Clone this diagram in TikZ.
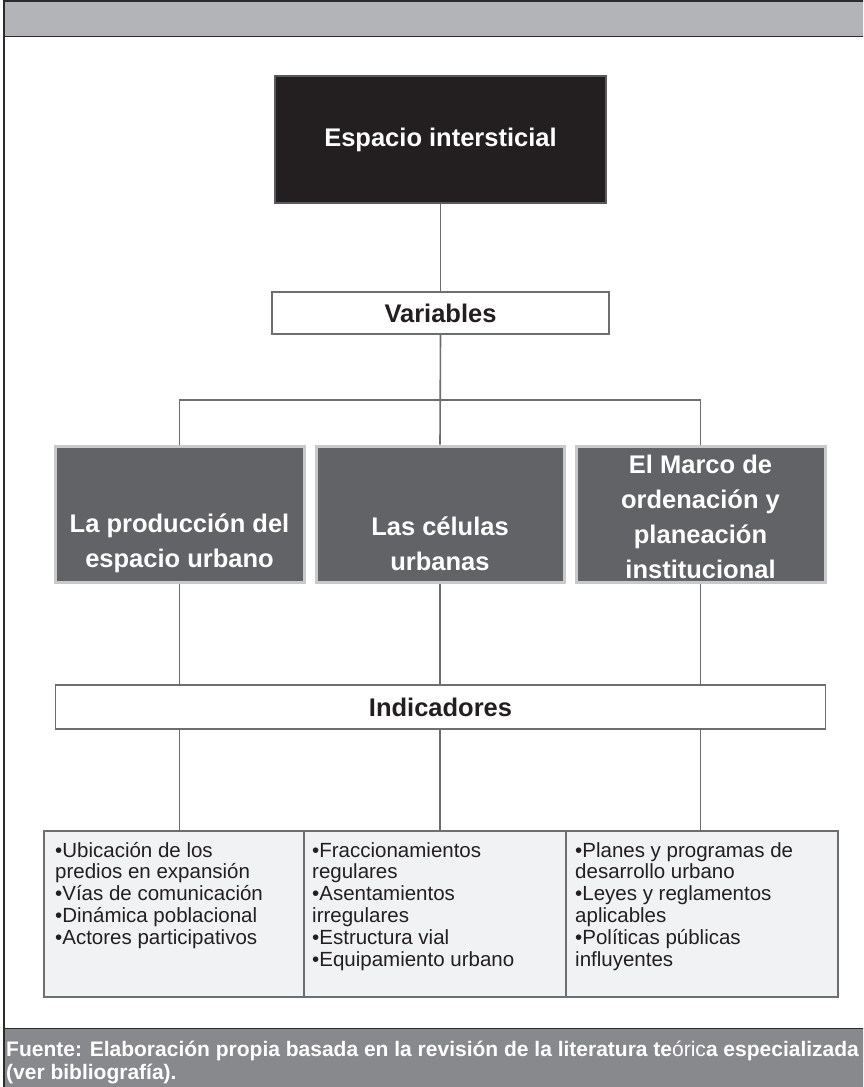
\documentclass[tikz,border=0pt]{standalone}
\usepackage{fontspec}
\setmainfont{Liberation Sans}
\definecolor{hdrgray}{HTML}{B3B4B7}
\definecolor{ftrgray}{HTML}{88898D}
\definecolor{framedark}{HTML}{2B2B2D}
\definecolor{topblack}{HTML}{231F20}
\definecolor{topedge}{HTML}{5A5A5C}
\definecolor{midgray}{HTML}{626366}
\definecolor{midedge}{HTML}{C8C9CB}
\definecolor{linegray}{HTML}{6D6E71}
\definecolor{cellfill}{HTML}{F1F2F3}
\definecolor{textdark}{HTML}{231F20}
\begin{document}
\begin{tikzpicture}[x=1pt,y=-1pt,
  conn/.style={draw=linegray,line width=1.6pt},
  topbox/.style={rectangle,fill=topblack,draw=topedge,line width=2pt,text=white,inner sep=0pt,
     font=\bfseries\fontsize{25.5}{30}\selectfont},
  whitebox/.style={rectangle,fill=white,draw=linegray,line width=1.8pt,text=textdark,inner sep=0pt,
     font=\bfseries\fontsize{25.5}{30}\selectfont},
  graybox/.style={rectangle,fill=midgray,draw=midedge,line width=3pt,inner sep=0pt},
  graytext/.style={text=white,align=center,inner sep=0pt,font=\bfseries\fontsize{25.5}{35}\selectfont},
  cellbox/.style={rectangle,fill=cellfill,draw=linegray,line width=1.6pt,inner sep=0pt},
  celltext/.style={anchor=base west,align=left,inner sep=0pt,text=textdark,font=\fontsize{20.5}{21.8}\selectfont},
  foottext/.style={anchor=base west,align=left,inner sep=0pt,text=white,font=\bfseries\fontsize{21}{23}\selectfont}
]
\useasboundingbox (0,0) rectangle (863,1087);
\clip (0,0) rectangle (863,1087);
\fill[white] (0,0) rectangle (863,1087);
% header band
\fill[hdrgray] (4,1) rectangle (870,36.5);
\draw[framedark,line width=2.5pt] (4,1) -- (870,1);
\draw[framedark,line width=1.8pt] (4,36.5) -- (870,36.5);
% footer band
\fill[ftrgray] (4,1028.5) rectangle (870,1090);
\draw[framedark,line width=1.8pt] (4,1028.5) -- (870,1028.5);
% left frame line
\draw[framedark,line width=1.8pt] (4,0) -- (4,1090);

% nodes
\node[topbox,minimum width=331pt,minimum height=127pt] (top) at (440.5,139.5) {\raisebox{-3pt}{Espacio intersticial}};
\node[whitebox,minimum width=337pt,minimum height=42pt] (var) at (440.5,313) {Variables};

\node[graybox,minimum width=249pt,minimum height=136pt] (b1) at (179.5,514) {};
\node[graybox,minimum width=248pt,minimum height=136pt] (b2) at (440,514) {};
\node[graybox,minimum width=249pt,minimum height=136pt] (b3) at (700.5,514) {};
\node[graytext] (b1t) at (179.5,543.5) {La producción del\\espacio urbano};
\node[graytext] (b2t) at (440,543.5) {Las células\\urbanas};
\node[graytext] (b3t) at (700.5,516.5) {El Marco de\\ordenación y\\planeación\\institucional};

\node[whitebox,minimum width=770pt,minimum height=44pt] (ind) at (440.5,707) {Indicadores};

\node[cellbox,minimum width=260pt,minimum height=166pt] (c1) at (174,914) {};
\node[cellbox,minimum width=262pt,minimum height=166pt] (c2) at (435,914) {};
\node[cellbox,minimum width=272pt,minimum height=166pt] (c3) at (702,914) {};

% base anchor of a multi-line node = baseline of its last line
\node[celltext] (c1t) at (55,944.2) {•Ubicación de los\\predios en expansión\\•Vías de comunicación\\•Dinámica poblacional\\•Actores participativos};
\node[celltext] (c2t) at (312,966) {•Fraccionamientos\\regulares\\•Asentamientos\\irregulares\\•Estructura vial\\•Equipamiento urbano};
\node[celltext] (c3t) at (575,966) {•Planes y programas de\\desarrollo urbano\\•Leyes y reglamentos\\aplicables\\•Políticas públicas\\influyentes};

\node[foottext] (src) at (6,1079) {Fuente: Elaboración propia basada en la revisión de la literatura te\textmd{óric}a especializada\\(ver bibliografía).};

% connectors
\coordinate (bus) at (440,400);
\draw[conn] (top.south) -- (var.north);
\draw[conn] (var.south) -- (b2.north);
\draw[conn] (b1.north) -- (b1.north |- bus) -- (b3.north |- bus) -- (b3.north);
\draw[conn] (b1.south) -- (b1.south |- ind.north);
\draw[conn] (b2.south) -- (b2.south |- ind.north);
\draw[conn] (b3.south) -- (b3.south |- ind.north);
\draw[conn] (b1.south |- ind.south) -- (b1.south |- c1.north);
\draw[conn] (b2.south |- ind.south) -- (b2.south |- c2.north);
\draw[conn] (b3.south |- ind.south) -- (b3.south |- c3.north);
\end{tikzpicture}
\end{document}
